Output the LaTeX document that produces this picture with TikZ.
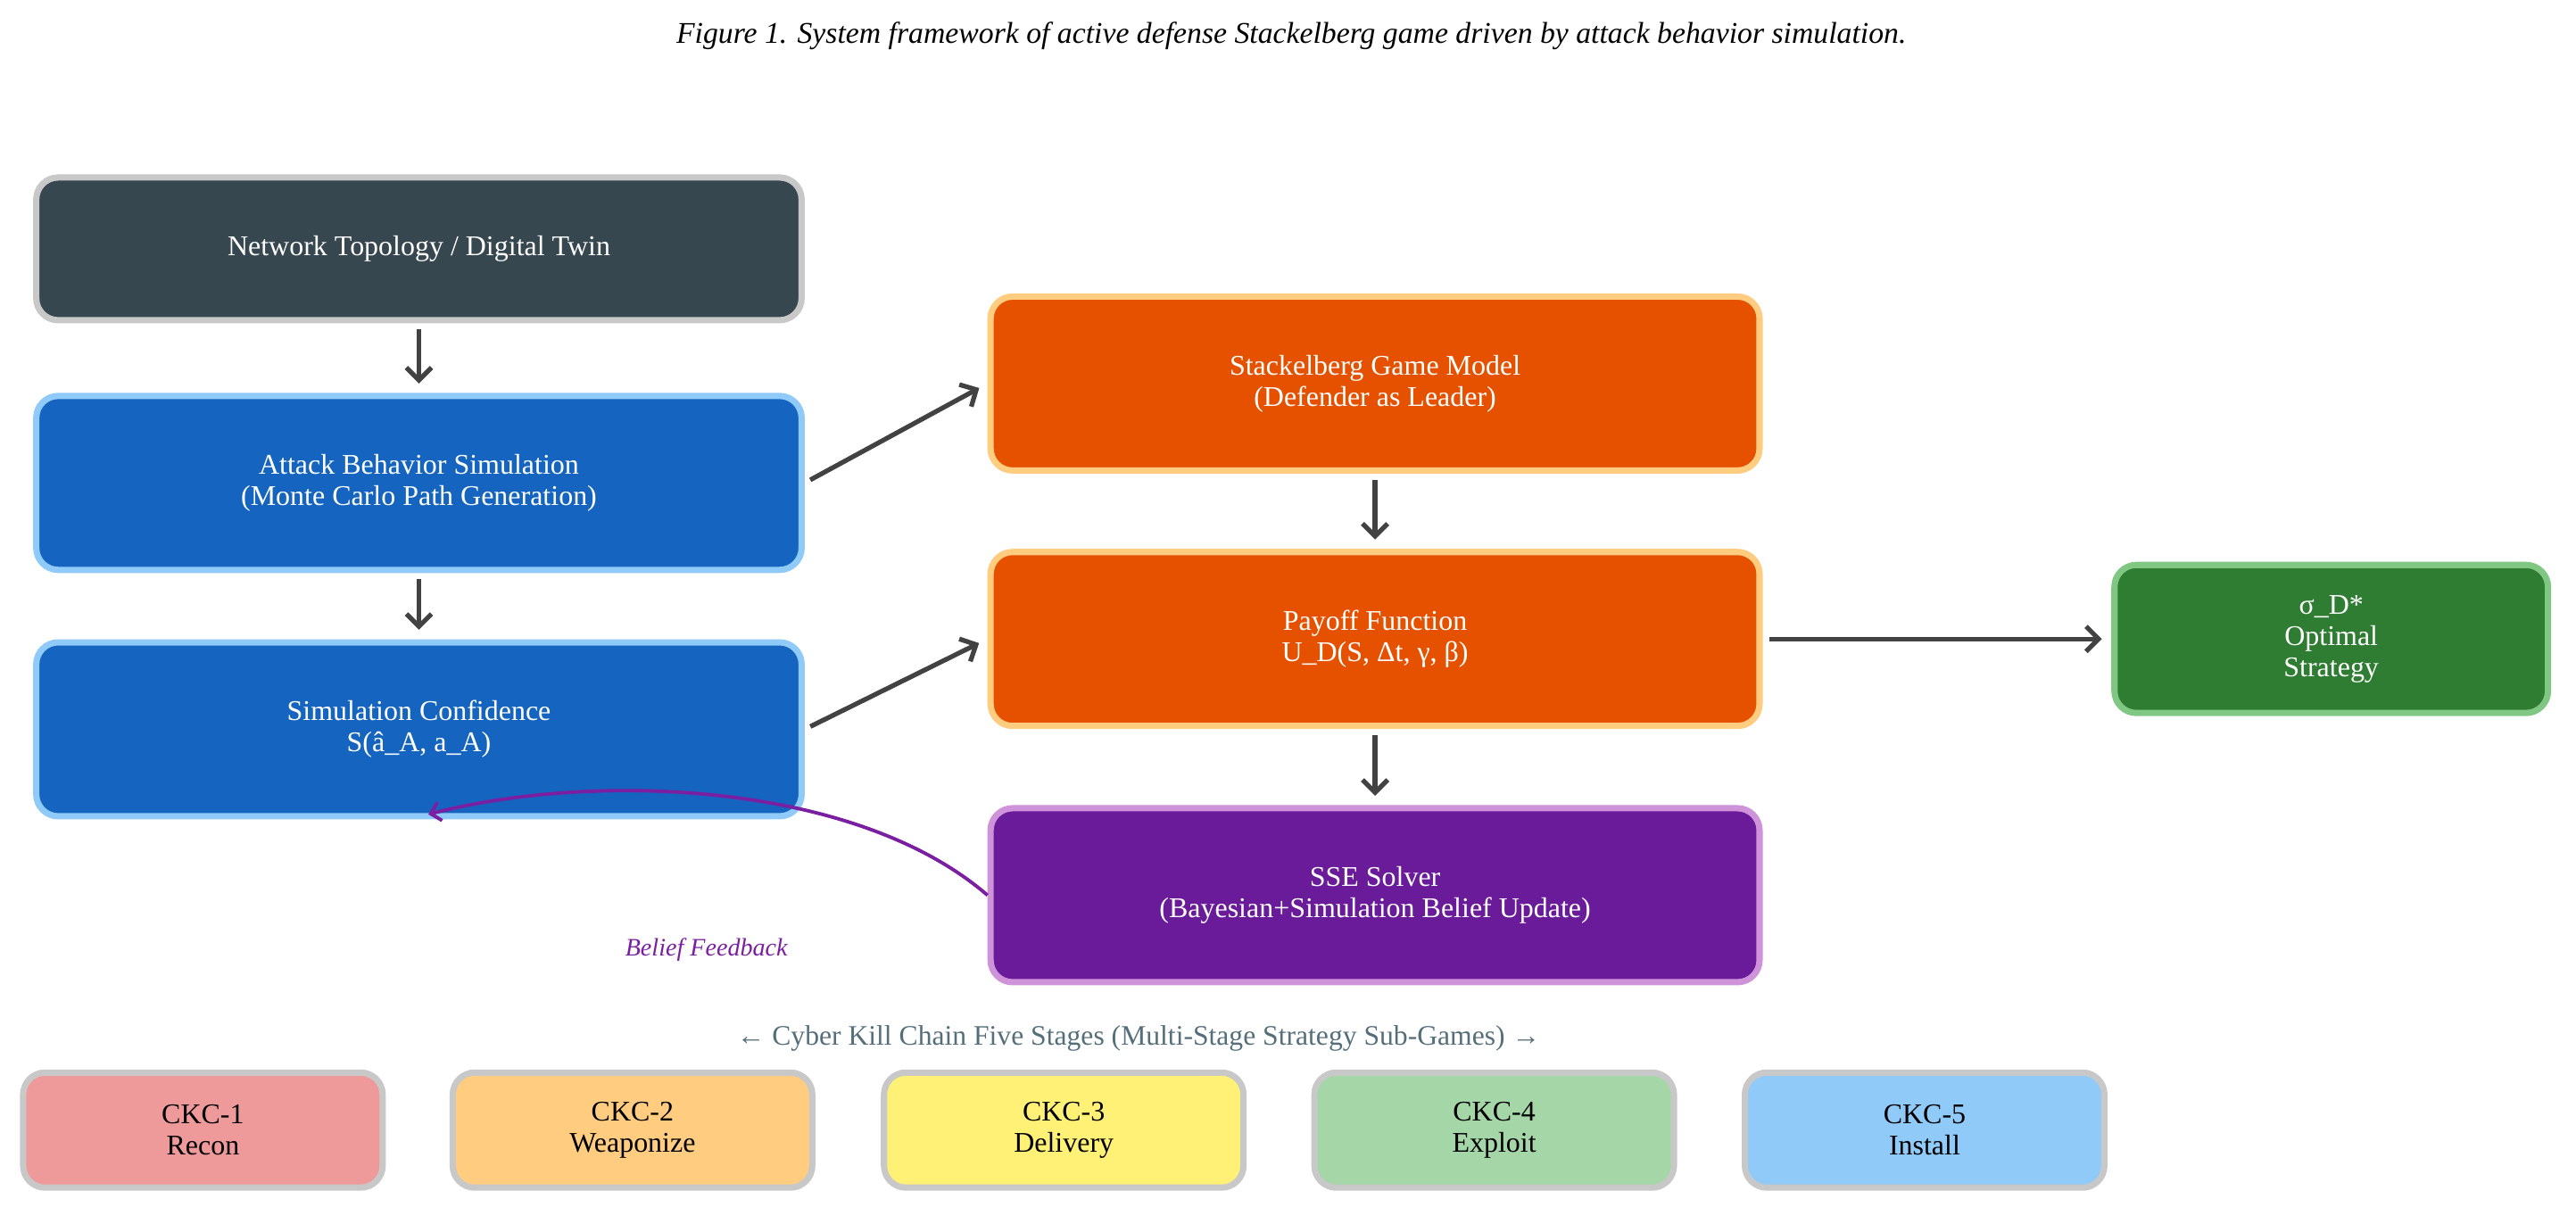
\documentclass[tikz,border=0pt]{standalone}
\usepackage{fontspec}
\setmainfont{Liberation Serif}
\usetikzlibrary{arrows.meta}

\definecolor{topofill}{HTML}{37474F}
\definecolor{simfill}{HTML}{1565C0}
\definecolor{simline}{HTML}{90CAF9}
\definecolor{gamefill}{HTML}{E65100}
\definecolor{gameline}{HTML}{FFCC80}
\definecolor{ssefill}{HTML}{6A1B9A}
\definecolor{sseline}{HTML}{CE93D8}
\definecolor{optfill}{HTML}{2E7D32}
\definecolor{optline}{HTML}{81C784}
\definecolor{greyline}{HTML}{C8C8C8}
\definecolor{arrowgrey}{HTML}{424242}
\definecolor{feedback}{HTML}{7B1FA2}
\definecolor{chaintext}{HTML}{546E7A}
\definecolor{ckcone}{HTML}{EF9A9A}
\definecolor{ckctwo}{HTML}{FFCC80}
\definecolor{ckcthree}{HTML}{FFF176}
\definecolor{ckcfour}{HTML}{A5D6A7}
\definecolor{ckcfive}{HTML}{90CAF9}

\tikzset{
  block/.style={draw, line width=2pt, rounded corners=7pt, align=center,
    text=white, font=\fontsize{9.1}{10}\selectfont},
  leftblock/.style={block, minimum width=8.58cm, minimum height=1.95cm},
  midblock/.style={block, minimum width=8.62cm, minimum height=1.95cm},
  stage/.style={block, draw=greyline, text=black, minimum width=4.03cm,
    minimum height=1.29cm},
  flow/.style={draw=arrowgrey, line width=1.5pt,
    -{Straight Barb[length=4pt,width=8pt]}, shorten <=2pt, shorten >=3pt},
}

\begin{document}
\begin{tikzpicture}[x=0.01841cm, y=-0.01841cm]
        \useasboundingbox (0,0) rectangle (1568,745);

        % TITLE
        \node (title) at (786,22)
          {\fontsize{9.6}{11}\selectfont\itshape Figure 1. System framework of active defense Stackelberg game driven by attack behavior simulation.};

        % LEFT COLUMN
        \node[leftblock, fill=topofill, draw=greyline, minimum height=1.6cm] (topo) at (255,151.5)
          {Network Topology / Digital Twin};
        \node[leftblock, fill=simfill, draw=simline] (attack) at (255,294)
          {Attack Behavior Simulation\\(Monte Carlo Path Generation)};
        \node[leftblock, fill=simfill, draw=simline] (conf) at (255,444)
          {Simulation Confidence\\S(â\_A, a\_A)};

        % MIDDLE COLUMN
        \node[midblock, fill=gamefill, draw=gameline] (game) at (837,233.5)
          {Stackelberg Game Model\\(Defender as Leader)};
        \node[midblock, fill=gamefill, draw=gameline] (payoff) at (837,389)
          {Payoff Function\\U\_D(S, Δt, γ, β)};
        \node[midblock, fill=ssefill, draw=sseline] (sse) at (837,545)
          {SSE Solver\\(Bayesian+Simulation Belief Update)};

        % RESULT
        \node[block, fill=optfill, draw=optline, minimum width=4.86cm, minimum height=1.66cm] (opt) at (1419,389)
          {σ\_D*\\Optimal\\Strategy};

        % ARROWS
        \draw[flow] (topo) -- (attack);
        \draw[flow] (attack) -- (conf);
        \draw[flow] (attack.east) -- (game.west);
        \draw[flow] (conf.east) -- (payoff.west);
        \draw[flow] (game) -- (payoff);
        \draw[flow] (payoff) -- (sse);
        \draw[flow] (payoff.east) -- (opt.west);

        % FEEDBACK
        \draw[feedback, line width=1.1pt, -{Straight Barb[length=3pt,width=6pt]}]
          (sse.west) .. controls (520,475) and (360,470) .. ([xshift=3pt,yshift=1.6pt]conf.south);
        \node[text=feedback, font=\fontsize{8}{9}\selectfont\itshape] (fblabel) at (430,578) {Belief Feedback};

        % KILL CHAIN
        \node[text=chaintext, font=\fontsize{9}{10}\selectfont] (chain) at (693,632)
          {← Cyber Kill Chain Five Stages (Multi-Stage Strategy Sub-Games) →};
        \foreach \i/\x/\c/\s in {1/123.5/ckcone/Recon, 2/385/ckctwo/Weaponize,
            3/647.5/ckcthree/Delivery, 4/909.5/ckcfour/Exploit, 5/1171.5/ckcfive/Install}
          \node[stage, fill=\c] (ckc\i) at (\x,688) {CKC-\i\\\s};
      \end{tikzpicture}
\end{document}
